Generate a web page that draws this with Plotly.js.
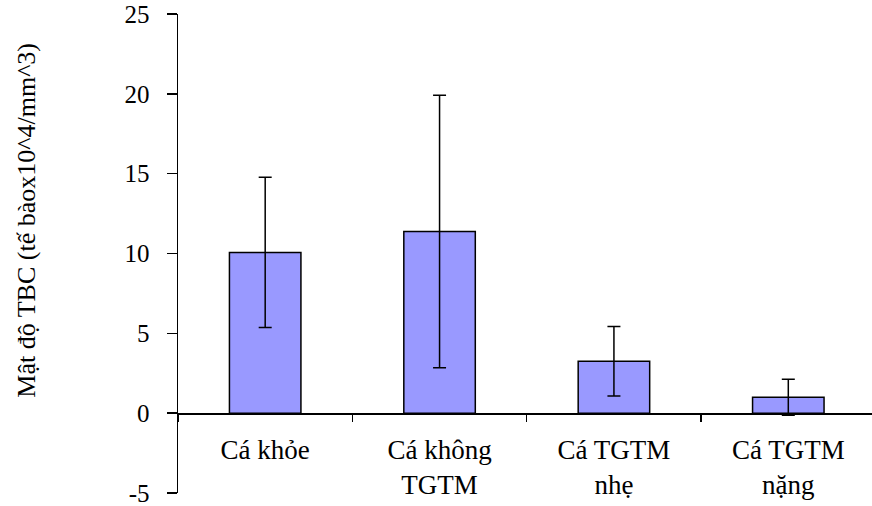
<!DOCTYPE html>
<html>
<head>
<meta charset="utf-8">
<script src="https://cdn.plot.ly/plotly-3.0.1.min.js"></script>
<style>html,body{margin:0;padding:0;background:#fff;}#chart{width:872px;height:506px;}</style>
</head>
<body>
<div id="chart"></div>
<script>
const categories = ["Cá khỏe", "Cá không<br>TGTM", "Cá TGTM<br>nhẹ", "Cá TGTM<br>nặng"];
const meanValues = [10.07, 11.38, 3.25, 1.0];
const errorValues = [4.7, 8.53, 2.18, 1.13];
const yTickValues = [-5, 0, 5, 10, 15, 20, 25];
const yTitle = "Mật độ TBC (tế bàox10^4/mm^3)";

const FONT = "Liberation Serif";

const trace = {
  type: "bar",
  x: categories,
  y: meanValues,
  width: 0.41,
  marker: {color: "#9999FF", line: {color: "#000000", width: 1.5}},
  error_y: {type: "data", array: errorValues, visible: true, color: "#000000", thickness: 1.5, width: 6.5},
  hoverinfo: "x+y"
};

const layout = {
  width: 872,
  height: 506,
  margin: {l: 178, r: 0, t: 14, b: 13},
  paper_bgcolor: "#ffffff",
  plot_bgcolor: "#ffffff",
  showlegend: false,
  font: {family: FONT, color: "#000000", size: 26},
  xaxis: {
    type: "category",
    range: [-0.5, 3.48],
    anchor: "free",
    position: 1 / 6,
    showline: true,
    linecolor: "#000000",
    linewidth: 1.5,
    ticks: "outside",
    tickson: "boundaries",
    ticklen: 7,
    tickwidth: 1.5,
    tickcolor: "#000000",
    showgrid: false,
    zeroline: false,
    ticklabelstandoff: 12,
    ticklabeloverflow: "allow",
    tickfont: {family: FONT, size: 27, color: "#000000"}
  },
  yaxis: {
    range: [-5, 25],
    tickvals: yTickValues,
    ticktext: yTickValues.map(String),
    showline: true,
    linecolor: "#000000",
    linewidth: 1.5,
    ticks: "outside",
    ticklen: 10,
    tickwidth: 1.5,
    tickcolor: "#000000",
    showgrid: false,
    zeroline: false,
    ticklabelstandoff: 12,
    ticklabeloverflow: "allow",
    tickfont: {family: FONT, size: 25, color: "#000000"}
  },
  annotations: [{
    text: yTitle,
    xref: "paper", yref: "paper",
    x: -0.218, xanchor: "center",
    y: 0.57, yanchor: "middle",
    textangle: -90,
    showarrow: false,
    font: {family: FONT, size: 26, color: "#000000"}
  }]
};

Plotly.newPlot("chart", [trace], layout, {displayModeBar: false, staticPlot: true});
</script>
</body>
</html>
